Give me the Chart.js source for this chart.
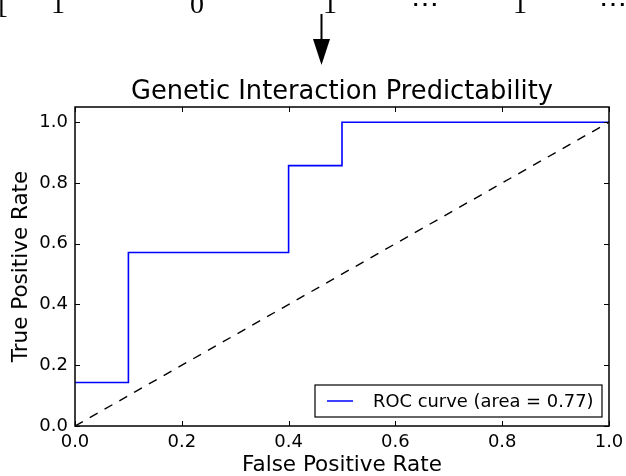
<!DOCTYPE html>
<html>
<head>
<meta charset="utf-8">
<script src="https://cdn.jsdelivr.net/npm/chart.js@4.4.1/dist/chart.umd.min.js"></script>
<style>
    html, body { margin: 0; padding: 0; background: #fff; }
    #wrap { width: 626px; height: 476px; }
</style>
</head>
<body>
<div id="wrap"><canvas id="rocChart" width="626" height="476"></canvas></div>
<script>
// ROC curve steps
const fpr = [0, 0.1, 0.1, 0.4, 0.4, 0.5, 0.5, 1.0];
const tpr = [0.143, 0.143, 0.571, 0.571, 0.857, 0.857, 1.0, 1.0];
// chance diagonal
const chanceX = [0, 1];
const chanceY = [0, 1];
const tickValues = [0, 0.2, 0.4, 0.6, 0.8, 1.0];
const rocLabel = 'ROC curve (area = 0.77)';
const chartTitle = 'Genetic Interaction Predictability';
const headerCells = ['[', '1', '0', '1', '\u22EF', '1', '\u22EF'];

const FONT = '"DejaVu Sans", sans-serif';

function toPoints(xs, ys) {
    return xs.map((x, i) => ({ x: x, y: ys[i] }));
}

// header row (cut off at the top) and arrow above the figure
const headerPlugin = {
    id: 'header',
    beforeDraw(chart) {
        const ctx = chart.ctx;
        ctx.save();
        ctx.fillStyle = '#fff';
        ctx.fillRect(0, 0, chart.width, chart.height);

        const xs = [3, 58, 197, 330, 425, 520, 613];
        ctx.fillStyle = '#000';
        ctx.font = '28px "Liberation Serif", serif';
        ctx.textAlign = 'center';
        ctx.textBaseline = 'alphabetic';
        headerCells.forEach((t, i) => ctx.fillText(t, xs[i], 13));

        // arrow
        ctx.fillRect(320.5, 14, 2, 28);
        ctx.beginPath();
        ctx.moveTo(313, 39);
        ctx.lineTo(330, 39);
        ctx.lineTo(321.5, 65);
        ctx.closePath();
        ctx.fill();
        ctx.restore();
    }
};

// matplotlib-like frame, inward ticks, title and legend
const framePlugin = {
    id: 'frame',
    afterDraw(chart) {
        const ctx = chart.ctx;
        const a = chart.chartArea;
        const xs = chart.scales.x, ys = chart.scales.y;
        ctx.save();
        ctx.strokeStyle = '#000';
        ctx.lineWidth = 1;
        tickValues.forEach(v => {
            const px = Math.round(xs.getPixelForValue(v)) + 0.5;
            ctx.beginPath();
            ctx.moveTo(px, a.bottom); ctx.lineTo(px, a.bottom - 5);
            ctx.moveTo(px, a.top); ctx.lineTo(px, a.top + 5);
            ctx.stroke();
            const py = Math.round(ys.getPixelForValue(v)) + 0.5;
            ctx.beginPath();
            ctx.moveTo(a.left, py); ctx.lineTo(a.left + 5, py);
            ctx.moveTo(a.right, py); ctx.lineTo(a.right - 5, py);
            ctx.stroke();
        });
        ctx.lineWidth = 1.5;
        ctx.strokeRect(a.left, a.top, a.right - a.left, a.bottom - a.top);

        // title
        ctx.fillStyle = '#000';
        ctx.font = '25.7px ' + FONT;
        ctx.textAlign = 'center';
        ctx.textBaseline = 'alphabetic';
        ctx.fillText(chartTitle, (a.left + a.right) / 2, 99);

        // legend, lower right
        const lx = 315, ly = 385, lw = 287, lh = 32;
        ctx.fillStyle = '#fff';
        ctx.fillRect(lx, ly, lw, lh);
        ctx.lineWidth = 1.2;
        ctx.strokeStyle = '#000';
        ctx.strokeRect(lx, ly, lw, lh);
        ctx.strokeStyle = '#0000ff';
        ctx.lineWidth = 1.5;
        ctx.beginPath();
        ctx.moveTo(327, 401); ctx.lineTo(353, 401);
        ctx.stroke();
        ctx.fillStyle = '#000';
        ctx.font = '17.9px ' + FONT;
        ctx.textAlign = 'left';
        ctx.textBaseline = 'middle';
        ctx.fillText(rocLabel, 373, 402);
        ctx.restore();
    }
};

new Chart(document.getElementById('rocChart'), {
    type: 'scatter',
    data: {
        datasets: [
            {
                label: rocLabel,
                data: toPoints(fpr, tpr),
                showLine: true,
                borderColor: '#0000ff',
                borderWidth: 1.6,
                pointRadius: 0,
                tension: 0,
                fill: false
            },
            {
                label: 'chance',
                data: toPoints(chanceX, chanceY),
                showLine: true,
                borderColor: '#000',
                borderWidth: 1.4,
                borderDash: [9, 8],
                pointRadius: 0,
                fill: false
            }
        ]
    },
    options: {
        responsive: false,
        animation: false,
        devicePixelRatio: 1,
        layout: { padding: { top: 107, right: 17, left: 0, bottom: 0 } },
        plugins: {
            legend: { display: false },
            title: { display: false },
            tooltip: { enabled: false }
        },
        scales: {
            x: {
                type: 'linear',
                min: 0,
                max: 1,
                grid: { display: false },
                border: { display: false },
                afterBuildTicks: s => { s.ticks = tickValues.map(v => ({ value: v })); },
                afterFit: s => { s.height = 50; },
                ticks: {
                    color: '#000',
                    font: { family: FONT, size: 18 },
                    padding: -2,
                    maxRotation: 0,
                    callback: v => v.toFixed(1)
                },
                title: {
                    display: true,
                    text: 'False Positive Rate',
                    color: '#000',
                    font: { family: FONT, size: 21.5, lineHeight: 1.0 },
                    padding: { top: 0, bottom: 0 }
                }
            },
            y: {
                type: 'linear',
                min: 0,
                max: 1.05,
                grid: { display: false },
                border: { display: false },
                afterBuildTicks: s => { s.ticks = tickValues.map(v => ({ value: v })); },
                afterFit: s => { s.width = 75; },
                ticks: {
                    color: '#000',
                    font: { family: FONT, size: 18 },
                    padding: -1,
                    callback: v => v.toFixed(1)
                },
                title: {
                    display: true,
                    text: 'True Positive Rate',
                    color: '#000',
                    font: { family: FONT, size: 21.5, lineHeight: 1.0 },
                    padding: { top: 11, bottom: 0 }
                }
            }
        }
    },
    plugins: [headerPlugin, framePlugin]
});
</script>
</body>
</html>
